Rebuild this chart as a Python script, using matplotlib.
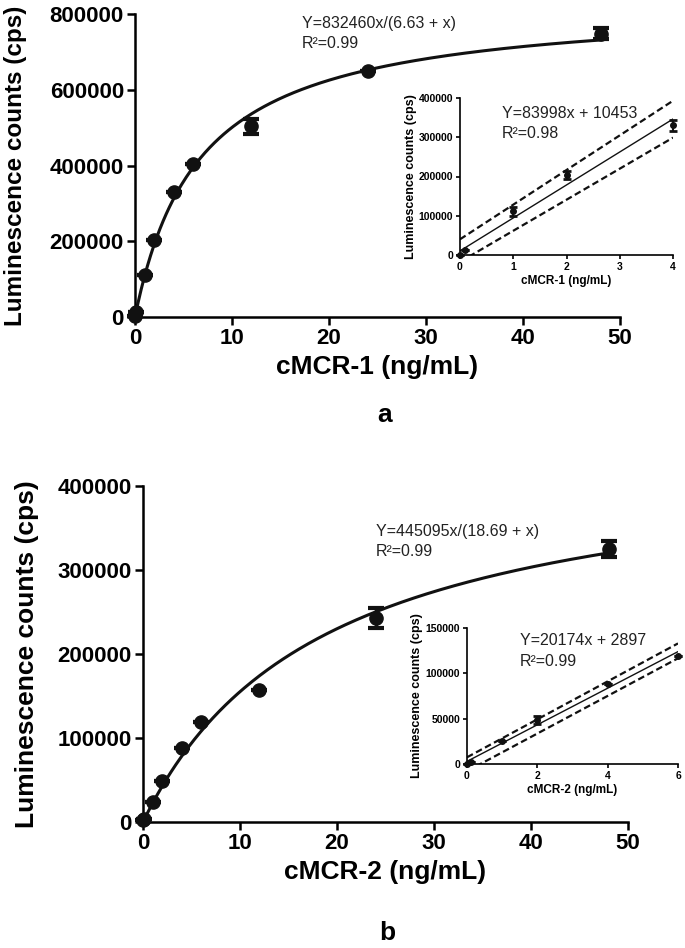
import numpy as np
import matplotlib
matplotlib.use("Agg")
import matplotlib.pyplot as plt

plt.rcParams["font.family"] = ["Liberation Sans", "DejaVu Sans"]

# panel a : cMCR-1
conc1 = [0, 0.1, 1, 2, 4, 6, 12, 24, 48]
lum1 = [3000, 12000, 111000, 203000, 329000, 404000, 503000, 650000, 748000]
err1 = [0, 0, 0, 0, 0, 0, 20000, 0, 15000]
vmax1, km1 = 832460, 6.63

ins_conc1 = [0, 0.1, 1, 2, 4]
ins_lum1 = [0, 12000, 111000, 203000, 330000]
ins_err1 = [0, 0, 12000, 10000, 15000]
slope1, icpt1 = 83998, 10453
band_x1 = [0, 4]
band_up1 = [40000, 393000]
band_lo1 = [-17400, 299000]

# panel b : cMCR-2
conc2 = [0, 0.1, 1, 2, 4, 6, 12, 24, 48]
lum2 = [2000, 3000, 24200, 48800, 87700, 118700, 157000, 243000, 325000]
err2 = [0, 0, 0, 0, 0, 0, 0, 12000, 10000]
vmax2, km2 = 445095, 18.69

ins_conc2 = [0, 0.1, 1, 2, 4, 6]
ins_lum2 = [0, 2000, 25400, 48500, 88200, 119500]
ins_err2 = [0, 0, 0, 4500, 0, 0]
slope2, icpt2 = 20174, 2897
band_x2 = [0, 6]
band_up2 = [7400, 133000]
band_lo2 = [-7900, 116600]

W, H = 685, 948
fig = plt.figure(figsize=(W / 100, H / 100), dpi=100)


def style(ax, lw, tl, fs):
    for s in ["top", "right"]:
        ax.spines[s].set_visible(False)
    for s in ["left", "bottom"]:
        ax.spines[s].set_linewidth(lw)
    ax.tick_params(direction="out", length=tl, width=lw, labelsize=fs, pad=2)
    for lab in ax.get_xticklabels() + ax.get_yticklabels():
        lab.set_fontweight("bold")


def main_panel(rect, conc, lum, err, vmax, km, yticks, xlabel, eq, eqpos, ylfs):
    ax = fig.add_axes(rect)
    xx = np.linspace(0, max(conc), 300)
    ax.plot(xx, vmax * xx / (km + xx), color="#111111", lw=2.2, clip_on=False)
    ax.errorbar(conc, lum, yerr=err, fmt="o", color="#111111", ms=9.5,
                capsize=6, capthick=3, elinewidth=2.5, clip_on=False, zorder=5)
    ax.set_xlim(0, 50)
    ax.set_ylim(0, yticks[-1])
    ax.set_xticks([0, 10, 20, 30, 40, 50])
    ax.set_yticks(yticks)
    ax.set_yticklabels([str(v) for v in yticks])
    style(ax, 1.8, 6, 16)
    ax.set_xlabel(xlabel, fontsize=19, fontweight="bold", labelpad=4)
    ax.set_ylabel("Luminescence counts (cps)", fontsize=ylfs, fontweight="bold")
    ax.text(eqpos[0], eqpos[1], eq, fontsize=11.5, va="center", ha="left",
            linespacing=1.45, color="#222222")
    return ax


def inset(rect, conc, lum, err, slope, icpt, bx, bup, blo, xticks, yticks,
          xlabel, eq, eqpos, ylab_x):
    ax = fig.add_axes(rect)
    xx = np.array([0, xticks[-1]])
    ax.plot(xx, slope * xx + icpt, color="#111111", lw=1.0)
    ax.plot(bx, bup, color="#111111", lw=1.6, ls=(0, (3, 1.6)))
    ax.plot(bx, blo, color="#111111", lw=1.6, ls=(0, (3, 1.6)))
    ax.errorbar(conc, lum, yerr=err, fmt="o", color="#111111", ms=4,
                capsize=3, capthick=2, elinewidth=1.5, clip_on=False, zorder=5)
    ax.set_xlim(0, xticks[-1])
    ax.set_ylim(0, yticks[-1])
    ax.set_xticks(xticks)
    ax.set_yticks(yticks)
    ax.set_yticklabels([str(v) for v in yticks])
    style(ax, 1.2, 3, 7.5)
    ax.set_xlabel(xlabel, fontsize=8.5, fontweight="bold", labelpad=2)
    ax.set_ylabel("Luminescence counts (cps)", fontsize=9, fontweight="bold")
    ax.yaxis.set_label_coords(ylab_x, 0.5)
    ax.text(eqpos[0], eqpos[1], eq, fontsize=11.5, va="center", ha="left",
            linespacing=1.45, color="#222222")
    return ax


ax1 = main_panel([135 / W, 1 - 317 / H, 485 / W, 303 / H], conc1, lum1, err1,
                 vmax1, km1, [0, 200000, 400000, 600000, 800000],
                 "cMCR-1 (ng/mL)", "Y=832460x/(6.63 + x)\nR\u00b2=0.99",
                 (17.2, 748000), 17.5)
ax1.yaxis.set_label_coords(-0.222, 0.5)

ax2 = main_panel([143 / W, 1 - 822 / H, 485 / W, 336 / H], conc2, lum2, err2,
                 vmax2, km2, [0, 100000, 200000, 300000, 400000],
                 "cMCR-2 (ng/mL)", "Y=445095x/(18.69 + x)\nR\u00b2=0.99",
                 (24.0, 334000), 19)
ax2.yaxis.set_label_coords(-0.215, 0.5)

inset([460 / W, 1 - 255 / H, 213 / W, 157 / H], ins_conc1, ins_lum1, ins_err1,
      slope1, icpt1, band_x1, band_up1, band_lo1, [0, 1, 2, 3, 4],
      [0, 100000, 200000, 300000, 400000], "cMCR-1 (ng/mL)",
      "Y=83998x + 10453\nR\u00b2=0.98", (0.78, 335000), -0.2)

inset([467 / W, 1 - 764 / H, 211 / W, 136 / H], ins_conc2, ins_lum2, ins_err2,
      slope2, icpt2, band_x2, band_up2, band_lo2, [0, 2, 4, 6],
      [0, 50000, 100000, 150000], "cMCR-2 (ng/mL)",
      "Y=20174x + 2897\nR\u00b2=0.99", (1.5, 124800), -0.21)

fig.text(385 / W, 1 - 415 / H, "a", fontsize=19, fontweight="bold",
         ha="center", va="center")
fig.text(387 / W, 1 - 933 / H, "b", fontsize=19, fontweight="bold",
         ha="center", va="center")

fig.savefig("out.png", dpi=100)
